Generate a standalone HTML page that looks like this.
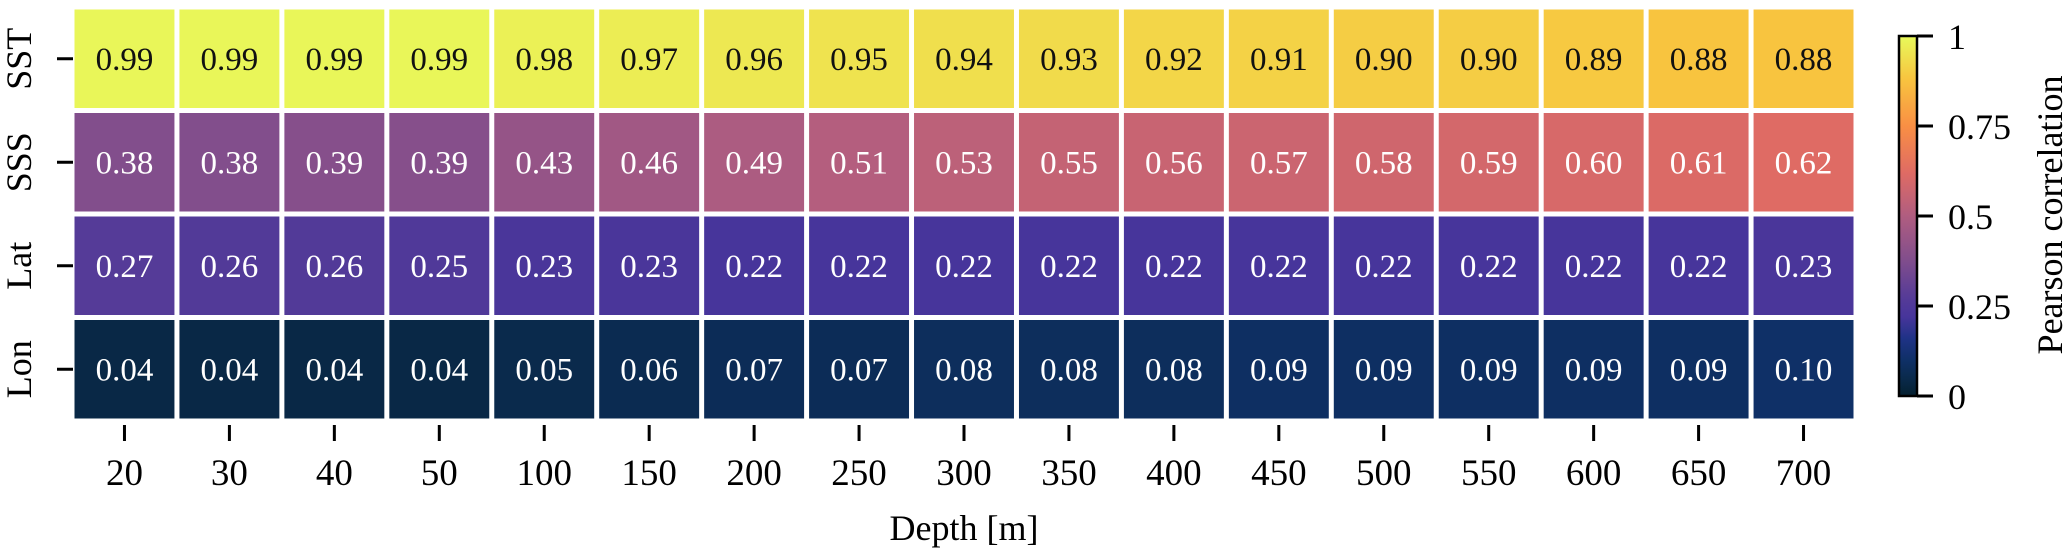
<!DOCTYPE html>
<html><head><meta charset="utf-8"><style>
html,body{margin:0;padding:0;background:#fff;}
svg{display:block;font-family:"Liberation Serif","DejaVu Serif",serif;}
</style></head><body>
<svg id="chart" width="2065" height="555" viewBox="0 0 2065 555">
<defs>
<linearGradient id="cbgrad" x1="0" y1="1" x2="0" y2="0">
<stop offset="0" stop-color="#04202f"/>
<stop offset="0.05" stop-color="#0a2a4c"/>
<stop offset="0.1" stop-color="#0f3067"/>
<stop offset="0.16" stop-color="#1f3286"/>
<stop offset="0.22" stop-color="#47359b"/>
<stop offset="0.28" stop-color="#583c97"/>
<stop offset="0.38" stop-color="#824e8c"/>
<stop offset="0.5" stop-color="#b05d80"/>
<stop offset="0.62" stop-color="#df6b64"/>
<stop offset="0.75" stop-color="#f98f44"/>
<stop offset="0.88" stop-color="#f8c43f"/>
<stop offset="1" stop-color="#e8fa5b"/>
</linearGradient>
</defs>
<g id="cells"></g>
<g id="axes"></g>
<text x="964" y="540" font-size="36" text-anchor="middle">Depth [m]</text>
<rect x="1899" y="36" width="18" height="360" fill="url(#cbgrad)" stroke="#000" stroke-width="2.5"/>
<g id="cbticks"></g>
<text transform="translate(2062,215) rotate(-90)" font-size="36" text-anchor="middle">Pearson correlation</text>
</svg>
<script>
const depths = ["20","30","40","50","100","150","200","250","300","350","400","450","500","550","600","650","700"];
const variables = ["SST","SSS","Lat","Lon"];
const sstValues = [0.99,0.99,0.99,0.99,0.98,0.97,0.96,0.95,0.94,0.93,0.92,0.91,0.90,0.90,0.89,0.88,0.88];
const sssValues = [0.38,0.38,0.39,0.39,0.43,0.46,0.49,0.51,0.53,0.55,0.56,0.57,0.58,0.59,0.60,0.61,0.62];
const latValues = [0.27,0.26,0.26,0.25,0.23,0.23,0.22,0.22,0.22,0.22,0.22,0.22,0.22,0.22,0.22,0.22,0.23];
const lonValues = [0.04,0.04,0.04,0.04,0.05,0.06,0.07,0.07,0.08,0.08,0.08,0.09,0.09,0.09,0.09,0.09,0.10];
const colorbarTicks = [0,0.25,0.5,0.75,1];
const colorbarTickLabels = ["0","0.25","0.5","0.75","1"];

const NS="http://www.w3.org/2000/svg";
const L=72,R=1856,T=7,B=421;
const cw=(R-L)/depths.length, rh=(B-T)/variables.length;
const xPos=i=>L+i*cw;
const yPos=j=>T+j*rh;
const cbY=v=>396-v*360;
const stops=[[0,[4,32,47]],[0.05,[10,42,76]],[0.1,[15,48,103]],[0.16,[31,50,134]],[0.22,[71,53,155]],[0.28,[88,60,151]],[0.38,[130,78,140]],[0.5,[176,93,128]],[0.62,[223,107,100]],[0.75,[249,143,68]],[0.88,[248,196,63]],[1,[232,250,91]]];
function cmap(v){
  for(let k=1;k<stops.length;k++){
    if(v<=stops[k][0]){
      const a=stops[k-1],b=stops[k],t=(v-a[0])/(b[0]-a[0]);
      const c=a[1].map((x,i)=>Math.round(x+(b[1][i]-x)*t));
      return `rgb(${c[0]},${c[1]},${c[2]})`;
    }
  }
  return "rgb(232,250,91)";
}
function mk(tag,attrs,parent){const e=document.createElementNS(NS,tag);for(const k in attrs)e.setAttribute(k,attrs[k]);parent.appendChild(e);return e;}
const cells=document.getElementById('cells');
const axes=document.getElementById('axes');
const rows=[sstValues,sssValues,latValues,lonValues];
rows.forEach((vals,j)=>{
  vals.forEach((v,i)=>{
    const r=mk('rect',{x:xPos(i)+2.5,y:yPos(j)+2.5,width:cw-5,height:rh-5,fill:cmap(v)},cells);
    
    
    const t=mk('text',{x:xPos(i)+cw/2,y:yPos(j)+rh/2+11,'font-size':33,'text-anchor':'middle',fill:v>0.7?'#111':'#fff'},cells);
    t.textContent=v.toFixed(2);
    
    
  });
});
variables.forEach((name,j)=>{
  const cy=yPos(j)+rh/2;
  const tk=mk('line',{x1:57,x2:73,y1:cy,y2:cy,stroke:'#000','stroke-width':3},axes);
  
  
  const t=mk('text',{transform:`translate(31,${cy}) rotate(-90)`,'font-size':36,'text-anchor':'middle'},axes);
  t.textContent=name;
  
  
});
depths.forEach((d,i)=>{
  const cx=xPos(i)+cw/2;
  const tk=mk('line',{x1:cx,x2:cx,y1:425,y2:441,stroke:'#000','stroke-width':3},axes);
  
  
  const t=mk('text',{x:cx,y:485,'font-size':37,'text-anchor':'middle'},axes);
  t.textContent=d;
  
  
});
const cbt=document.getElementById('cbticks');
colorbarTicks.forEach((v,k)=>{
  const y=cbY(v);
  const tk=mk('line',{x1:1917,x2:1933,y1:y,y2:y,stroke:'#000','stroke-width':3},cbt);
  
  
  const t=mk('text',{x:1948,y:y+13,'font-size':36},cbt);
  t.textContent=colorbarTickLabels[k];
  
  
});
</script>
</body></html>
